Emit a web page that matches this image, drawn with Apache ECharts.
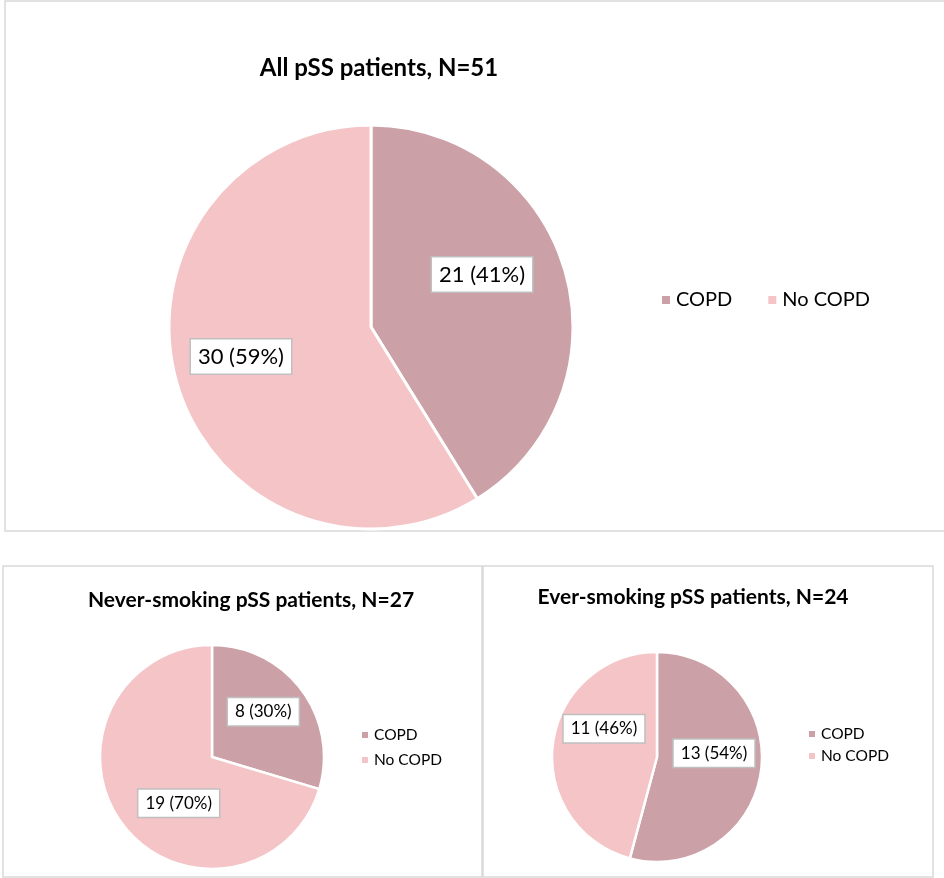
<!DOCTYPE html>
<html>
<head>
<meta charset="utf-8">
<script src="https://cdn.jsdelivr.net/npm/echarts@6/dist/echarts.min.js"></script>
<style>
  html, body { margin: 0; padding: 0; background: #fff; }
  #chart { width: 944px; height: 878px; }
</style>
</head>
<body>
<div id="chart"></div>
<script>
  // data
  var categories = ['COPD', 'No COPD'];
  var allPatients = [21, 30];
  var neverSmoking = [8, 19];
  var everSmoking = [13, 11];
  var titles = ['All pSS patients, N=51', 'Never-smoking pSS patients, N=27', 'Ever-smoking pSS patients, N=24'];
  var colors = ['#cba0a6', '#f5c4c6'];

  var font = 'Lato, "Open Sans", sans-serif';

  function toData(vals) {
    return vals.map(function (v, i) { return { name: categories[i], value: v }; });
  }

  function labelStyle(size) {
    return {
      show: true,
      position: 'inside',
      formatter: function (p) { return p.value + ' (' + Math.round(p.percent) + '%)'; },
      color: '#000',
      fontFamily: font,
      fontSize: size,
      backgroundColor: '#fff',
      borderColor: '#bfbfbf',
      borderWidth: 1.5,
      padding: size > 18 ? [7, 7, 5, 7] : [6, 7, 4, 7]
    };
  }

  // nudges so labels sit like the original
  function nudge(offsets) {
    return function (params) {
      var o = offsets[params.dataIndex];
      return { dx: o[0], dy: o[1] };
    };
  }

  var chart = echarts.init(document.getElementById('chart'));

  var option = {
    animation: false,
    color: colors,
    graphic: [
      { type: 'rect', shape: { x: 5, y: 1, width: 945, height: 530 }, style: { fill: 'none', stroke: '#d9d9d9', lineWidth: 1.5 } },
      { type: 'rect', shape: { x: 3, y: 566, width: 479, height: 311 }, style: { fill: 'none', stroke: '#d9d9d9', lineWidth: 1.5 } },
      { type: 'rect', shape: { x: 483, y: 566, width: 450, height: 311 }, style: { fill: 'none', stroke: '#d9d9d9', lineWidth: 1.5 } }
    ],
    title: [
      { text: titles[0], left: 374, top: 51, textAlign: 'center', textStyle: { fontFamily: font, fontSize: 24, fontWeight: 'bold', color: '#000' } },
      { text: titles[1], left: 246, top: 585, textAlign: 'center', textStyle: { fontFamily: font, fontSize: 21, fontWeight: 'bold', color: '#000' } },
      { text: titles[2], left: 688, top: 582, textAlign: 'center', textStyle: { fontFamily: font, fontSize: 21, fontWeight: 'bold', color: '#000' } }
    ],
    legend: [
      {
        data: categories, orient: 'horizontal', left: 655, top: 285,
        icon: 'rect', itemWidth: 10, itemHeight: 10, itemGap: 34,
        textStyle: { fontFamily: font, fontSize: 20, color: '#000' }
      },
      {
        data: categories, orient: 'vertical', left: 355, top: 722,
        icon: 'rect', itemWidth: 8, itemHeight: 8, itemGap: 9,
        textStyle: { fontFamily: font, fontSize: 15.5, color: '#000' }
      },
      {
        data: categories, orient: 'vertical', left: 802, top: 721,
        icon: 'rect', itemWidth: 8, itemHeight: 8, itemGap: 6,
        textStyle: { fontFamily: font, fontSize: 15.5, color: '#000' }
      }
    ],
    series: [
      {
        type: 'pie', center: [371, 327], radius: 202, startAngle: 90,
        data: toData(allPatients),
        itemStyle: { borderColor: '#fff', borderWidth: 3 },
        label: labelStyle(22), labelLine: { show: false },
        labelLayout: nudge([[11, -24], [-30, 1]]),
        emphasis: { disabled: true }
      },
      {
        type: 'pie', center: [212, 757], radius: 112, startAngle: 90,
        data: toData(neverSmoking),
        itemStyle: { borderColor: '#fff', borderWidth: 2.5 },
        label: labelStyle(17), labelLine: { show: false },
        labelLayout: nudge([[4, -10], [14, 11]]),
        emphasis: { disabled: true }
      },
      {
        type: 'pie', center: [657, 757], radius: 105, startAngle: 90,
        data: toData(everSmoking),
        itemStyle: { borderColor: '#fff', borderWidth: 2.5 },
        label: labelStyle(17), labelLine: { show: false },
        labelLayout: nudge([[2, -11], [2, -21]]),
        emphasis: { disabled: true }
      }
    ]
  };

  chart.setOption(option);
</script>
</body>
</html>
